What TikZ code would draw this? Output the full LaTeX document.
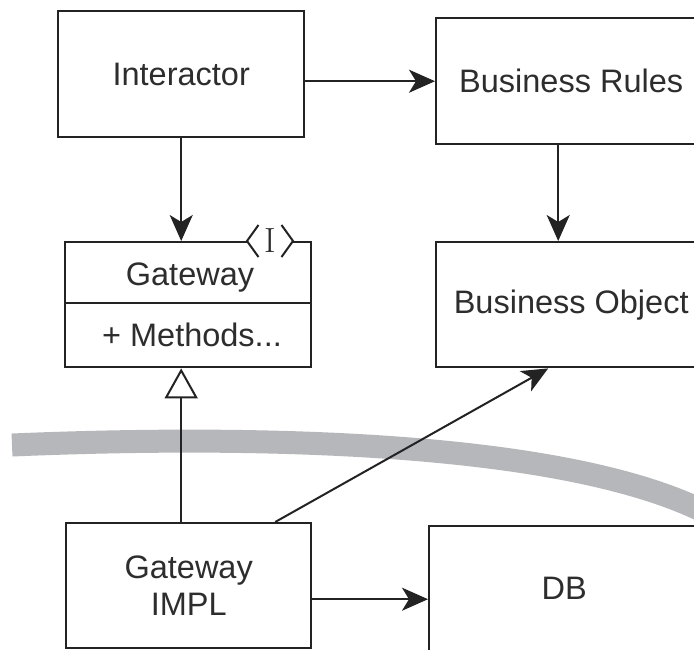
\documentclass[tikz,border=0pt]{standalone}
\usepackage{fontspec}
\newfontfamily\labelfont{Liberation Sans}
\usetikzlibrary{arrows.meta}
\definecolor{ink}{RGB}{35,35,35}
\definecolor{txt}{RGB}{45,45,45}
\definecolor{band}{RGB}{182,183,186}
\tikzset{
  box/.style={draw=ink, line width=2.4pt, inner sep=0pt, anchor=north west,
    text=txt, font=\labelfont\fontsize{32.5}{37}\selectfont, align=center},
  lbl/.style={text=txt, font=\labelfont\fontsize{32.5}{37}\selectfont, inner sep=0pt, anchor=base},
  arr/.style={draw=ink, line width=2pt, -{Stealth[length=26pt,width=23pt,inset=7pt]}},
  realize/.style={draw=ink, line width=2pt, -{Triangle[open,length=30pt,width=33pt,line width=2pt]}},
  chev/.style={draw=ink, line width=2pt, line join=miter},
}
\begin{document}
\begin{tikzpicture}[x=1pt,y=-1pt]
\useasboundingbox (0,0) rectangle (694,649);
\clip (0,0) rectangle (694,649);
\fill[white] (0,0) rectangle (694,649);
% grey boundary band
\draw[band, line width=23pt] (12,445) .. controls (250,435) and (560,440) .. (705,512);
% boxes
\node[box, minimum width=246pt, minimum height=126pt] (int) at (57,10) {Interactor};
\node[box, minimum width=270pt, minimum height=126pt] (br) at (435,17) {Business Rules};
\node[box, minimum width=246pt, minimum height=125pt] (gw) at (64,241) {};
\node[box, minimum width=270pt, minimum height=125pt] (bo) at (435,241) {Business Object};
\node[box, minimum width=245pt, minimum height=125pt] (impl) at (65,522) {Gateway\\IMPL};
\node[box, minimum width=270pt, minimum height=125pt] (db) at (428,525) {DB};
% UML interface compartments
\draw[ink, line width=2.4pt] (gw.west |- 0,303) -- (gw.east |- 0,303);
\node[lbl] (gwname) at (190,285) {Gateway};
\node[lbl] (gwmeth) at (192,346) {+ Methods...};
% interface marker
\fill[white] (248,236) rectangle (292,246);
\draw[chev] (258.5,225) -- (247,241) -- (258.5,257);
\draw[chev] (281.5,225) -- (293,241) -- (281.5,257);
\node[inner sep=0pt, text=txt, font=\fontsize{35}{35}\selectfont] (iface) at (270,240.5) {I};
% connectors
\draw[arr] (int.east |- br.west) -- (br.west);
\draw[arr] (int.south) -- (int.south |- gw.north);
\draw[arr] ([xshift=-13pt]br.south) -- ([xshift=-13pt]bo.north);
\draw[realize] (impl.north -| int.south) -- (gw.south -| int.south);
\draw[arr] ([xshift=86.5pt]impl.north) -- ([xshift=-23pt]bo.south);
\draw[arr] ([yshift=-13.5pt]impl.east) -- ([yshift=-13.5pt]impl.east -| db.west);
\end{tikzpicture}
\end{document}
